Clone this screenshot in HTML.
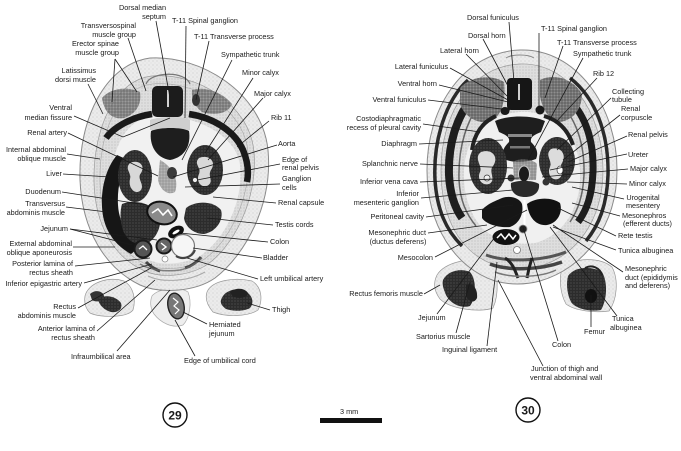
<!DOCTYPE html>
<html><head><meta charset="utf-8">
<style>
html,body{margin:0;padding:0;background:#fff;}
svg{display:block;}
text{font-family:"Liberation Sans",Arial,sans-serif;font-size:7.3px;fill:#1a1a1a;}
.e{text-anchor:end}
.m{text-anchor:middle}
.l line,.l polyline{stroke:#1a1a1a;stroke-width:0.8;fill:none}
</style></head><body>
<svg width="681" height="451" viewBox="0 0 681 451" xmlns="http://www.w3.org/2000/svg">
<defs>
<pattern id="st" width="4" height="4" patternUnits="userSpaceOnUse">
<rect width="4" height="4" fill="#ebebeb"/>
<circle cx="1" cy="1" r="0.5" fill="#bcbcbc"/>
<circle cx="3" cy="3" r="0.4" fill="#c9c9c9"/>
</pattern>
<pattern id="st2" width="3" height="3" patternUnits="userSpaceOnUse">
<rect width="3" height="3" fill="#dedede"/>
<circle cx="1" cy="1" r="0.5" fill="#a8a8a8"/>
</pattern>
<pattern id="dk" width="3" height="3" patternUnits="userSpaceOnUse">
<rect width="3" height="3" fill="#2c2c2c"/>
<circle cx="1" cy="1" r="0.6" fill="#5a5a5a"/>
</pattern>
<pattern id="mg" width="3" height="3" patternUnits="userSpaceOnUse">
<rect width="3" height="3" fill="#7a7a7a"/>
<circle cx="1" cy="1" r="0.6" fill="#444"/>
<circle cx="2.5" cy="2.5" r="0.4" fill="#aaa"/>
</pattern>
</defs>

<!-- ================= SECTION 29 ================= -->
<g>
<!-- thighs -->
<path d="M85,296 C88,283 108,276 124,281 C134,287 136,300 133,310 C127,318 100,318 90,313 C85,308 84,302 85,296 Z" fill="url(#st)" stroke="#999" stroke-width="0.7"/>
<path d="M90,294 C95,289 103,291 104,296 C104,301 97,303 92,300 Z" fill="#333"/>
<path d="M98,299 C105,294 116,296 121,303 C123,309 118,313 111,312 C104,310 99,305 98,299 Z" fill="url(#dk)"/>
<path d="M207,292 C212,280 235,277 252,281 C262,287 263,300 258,310 C248,317 225,317 213,312 C207,305 205,298 207,292 Z" fill="url(#st)" stroke="#999" stroke-width="0.7"/>
<path d="M221,300 C224,291 234,288 242,290 C252,293 255,302 250,308 C243,312 232,311 226,309 C222,306 220,303 221,300 Z" fill="url(#dk)"/>
<path d="M230,292 C236,287 245,288 248,293 C247,298 240,299 233,297 Z" fill="#222"/>
<!-- umbilical cord -->
<path d="M152,296 C158,288 180,286 188,292 C192,302 190,318 183,325 C172,329 160,322 154,314 C150,308 150,301 152,296 Z" fill="#eeeeee" stroke="#aaa" stroke-width="0.7"/>
<ellipse cx="176" cy="306" rx="8" ry="13" transform="rotate(-12 176 306)" fill="#777" stroke="#222" stroke-width="1.4"/>
<path d="M173,298 L178,302 L174,306 L179,310 L175,314" stroke="#fff" stroke-width="1.2" fill="none"/>

<!-- body -->
<path d="M150,58 C200,55 262,92 268,150 C273,205 245,255 215,278 C195,292 160,294 140,285 C105,268 82,230 80,180 C78,120 105,64 150,58 Z" fill="url(#st)" stroke="#8a8a8a" stroke-width="1"/>
<path d="M152,76 C196,72 250,104 254,152 C258,200 233,248 205,266 C185,277 160,278 145,271 C114,258 95,225 94,182 C93,128 115,80 152,76 Z" fill="url(#st2)" stroke="#9a9a9a" stroke-width="0.7"/>
<path d="M152,84 C194,80 244,108 248,152 C252,198 228,244 203,260 C184,270 162,271 148,265 C118,253 101,222 100,182 C99,132 118,88 152,84 Z" fill="none" stroke="#a8a8a8" stroke-width="0.6"/>
<!-- body cavity light -->
<path d="M150,117 C185,112 235,130 240,165 C244,200 225,240 200,256 C182,265 160,266 147,259 C120,246 108,220 110,185 C112,150 125,120 150,117 Z" fill="#f1f1f1"/>
<!-- dorsal muscles -->
<path d="M102,98 C110,88 128,86 140,92 C142,104 136,114 124,118 C112,120 104,112 102,98 Z" fill="url(#mg)" opacity="0.85"/>
<path d="M192,90 C205,86 222,92 232,104 C228,114 214,116 202,112 C194,106 191,98 192,90 Z" fill="url(#mg)" opacity="0.85"/>
<!-- rib arcs -->
<path d="M106,138 C114,127 132,117 152,114" stroke="#1a1a1a" stroke-width="6.5" fill="none"/>
<path d="M189,114 C215,118 235,132 243,150 C248,162 249,172 247,182" stroke="#1a1a1a" stroke-width="6.5" fill="none"/>
<!-- spinal cord -->
<rect x="152" y="86" width="31" height="31" rx="5" fill="#1c1c1c"/>
<line x1="168" y1="90" x2="168" y2="107" stroke="#fff" stroke-width="1.6"/>
<path d="M146,84 C150,72 185,70 190,84" fill="none" stroke="#777" stroke-width="1.2"/>
<ellipse cx="196" cy="100" rx="4" ry="6" fill="#333"/>
<!-- vertebral body -->
<path d="M150,120 C160,116 182,116 190,120 L190,130 L150,130 Z" fill="#cfcfcf"/>
<path d="M151,131 C160,127 182,127 189,131 C191,144 186,157 170,160 C156,158 149,145 151,131 Z" fill="#1e1e1e"/>
<!-- liver crescent -->
<path d="M117,155 C106,168 101,188 102,207 C103,228 113,244 131,254 L141,246 C127,236 119,222 118,205 C117,188 121,172 128,160 Z" fill="#161616"/>
<!-- kidneys -->
<ellipse cx="135" cy="176" rx="17" ry="26" fill="url(#dk)"/>
<path d="M130,163 C138,159 146,165 141,173 C136,179 146,185 140,191 C134,195 128,187 130,179 C132,173 124,169 130,163 Z" fill="#d8d8d8"/>
<ellipse cx="205" cy="170" rx="18" ry="25" fill="url(#dk)"/>
<path d="M199,158 C209,154 217,162 211,170 C207,176 215,182 207,186 C200,188 196,180 199,174 C202,168 193,164 199,158 Z" fill="#d8d8d8"/>
<circle cx="195" cy="180" r="2.5" fill="#eee" stroke="#333" stroke-width="0.8"/>
<!-- aorta -->
<path d="M160,160 C170,165 180,178 175,192 C168,196 160,190 158,180 Z" fill="url(#mg)" opacity="0.6"/>
<ellipse cx="172" cy="173" rx="5" ry="6" fill="#3a3a3a"/>
<!-- testis cords -->
<path d="M122,204 C134,199 150,203 159,213 C163,224 157,239 146,244 C134,246 125,239 122,227 C120,219 120,211 122,204 Z" fill="url(#dk)"/>
<path d="M186,208 C196,200 214,201 221,210 C224,220 216,232 204,234 C193,234 185,226 184,218 Z" fill="url(#dk)"/>
<!-- duodenum -->
<ellipse cx="162" cy="213" rx="15" ry="11" transform="rotate(15 162 213)" fill="#8a8a8a" stroke="#111" stroke-width="2"/>
<path d="M152,213 L158,209 L163,215 L168,210 L172,216" stroke="#fff" stroke-width="1.6" fill="none"/>
<!-- colon -->
<ellipse cx="176" cy="232" rx="8.5" ry="5.5" transform="rotate(-30 176 232)" fill="#111"/>
<ellipse cx="176" cy="232" rx="4" ry="1.5" transform="rotate(-30 176 232)" fill="#fff"/>
<!-- jejunum -->
<circle cx="164" cy="246" r="7.5" fill="#666" stroke="#1a1a1a" stroke-width="2"/>
<path d="M161,243 L166,247 L162,250" stroke="#fff" stroke-width="1.4" fill="none"/>
<circle cx="143" cy="249" r="8.5" fill="#555" stroke="#1a1a1a" stroke-width="2"/>
<path d="M139,249 L143,246 L147,250" stroke="#fff" stroke-width="1.3" fill="none"/>
<!-- bladder -->
<circle cx="183" cy="246" r="11.5" fill="#f6f6f6" stroke="#777" stroke-width="1.2"/>
<path d="M176,256 C182,260 192,258 195,250" stroke="#444" stroke-width="2" fill="none"/>
<circle cx="165" cy="259" r="3" fill="#fff" stroke="#888" stroke-width="0.7"/>
<!-- abdominal wall bottom -->
<path d="M146,262 C150,266 156,270 160,271" stroke="#444" stroke-width="3" fill="none"/>
<path d="M185,268 C192,266 197,262 201,257" stroke="#444" stroke-width="3" fill="none"/>
<path d="M140,264 C150,270 165,272 180,270 C190,268 198,262 202,258" stroke="#666" stroke-width="1.5" fill="none" opacity="0.8"/>
<path d="M148,276 C160,282 185,283 205,272" stroke="#aaa" stroke-width="1" fill="none"/>
</g>

<!-- ================= SECTION 30 ================= -->
<g>
<!-- thighs -->
<path d="M437,275 C445,262 470,257 490,261 C499,270 499,295 493,308 C480,313 450,309 440,299 C434,291 433,283 437,275 Z" fill="url(#st)" stroke="#999" stroke-width="0.7"/>
<path d="M443,280 C448,270 462,268 470,272 C477,280 476,298 470,306 C460,309 450,303 446,295 C443,288 442,284 443,280 Z" fill="url(#dk)"/>
<path d="M466,285 C472,282 478,288 477,298 C474,304 468,302 466,295 Z" fill="#222"/>
<path d="M562,268 C575,257 600,257 612,267 C619,280 617,300 609,311 C595,313 575,311 566,304 C560,293 559,279 562,268 Z" fill="url(#st)" stroke="#999" stroke-width="0.7"/>
<path d="M568,276 C575,266 592,266 602,272 C608,282 607,300 601,310 C590,312 576,309 571,302 C567,294 566,284 568,276 Z" fill="url(#dk)"/>
<ellipse cx="591" cy="296" rx="6" ry="7" fill="#111"/>
<path d="M585,268 C592,264 600,268 602,275" stroke="#222" stroke-width="2" fill="none"/>

<!-- body -->
<path d="M520,50 C575,48 617,105 617,170 C617,225 585,268 540,281 C525,285 510,285 495,281 C455,268 427,225 427,170 C427,105 465,52 520,50 Z" fill="url(#st)" stroke="#8a8a8a" stroke-width="1"/>
<path d="M520,64 C568,62 603,112 603,170 C603,220 576,258 536,267 C521,270 506,269 495,265 C460,253 441,218 441,170 C441,112 472,66 520,64 Z" fill="url(#st2)" stroke="#9a9a9a" stroke-width="0.7"/>
<!-- concentric body wall bands -->
<path d="M468,80 C446,100 433,140 435,180 C437,210 446,230 462,246" stroke="#2a2a2a" stroke-width="3.5" fill="none"/>
<path d="M472,98 C456,118 448,145 449,175 C450,195 455,208 462,218" stroke="#1e1e1e" stroke-width="8" fill="none"/>
<path d="M486,96 C466,118 458,148 459,180 C460,200 466,214 476,226" stroke="#666" stroke-width="1.5" fill="none"/>
<path d="M570,78 C596,98 609,135 608,175 C607,205 599,225 586,241" stroke="#2a2a2a" stroke-width="3.5" fill="none"/>
<path d="M566,96 C585,114 594,140 593,172 C592,195 587,210 578,222" stroke="#1e1e1e" stroke-width="7" fill="none"/>
<path d="M555,97 C575,116 585,142 584,175 C583,196 578,210 570,222" stroke="#666" stroke-width="1.5" fill="none"/>
<!-- cavity light -->
<path d="M520,112 C555,110 578,135 580,170 C582,205 565,235 535,243 C515,246 495,240 482,228 C468,212 463,190 464,170 C466,135 488,114 520,112 Z" fill="#f0f0f0"/>
<!-- dorsal muscles -->
<path d="M460,88 C470,76 492,74 504,82 C506,100 502,116 490,122 C476,124 464,116 460,104 Z" fill="url(#mg)"/>
<path d="M540,80 C555,72 574,80 582,94 C582,108 574,120 560,122 C548,120 542,108 540,96 Z" fill="url(#mg)"/>
<!-- diaphragm bands -->
<path d="M472,150 C474,135 482,122 496,116" stroke="#222" stroke-width="4" fill="none"/>
<path d="M544,116 C558,120 568,130 573,145" stroke="#222" stroke-width="4" fill="none"/>
<!-- spinal cord -->
<path d="M506,58 C512,54 528,54 534,58" stroke="#888" stroke-width="1" fill="none"/>
<rect x="507" y="78" width="25" height="32" rx="4" fill="#161616"/>
<line x1="519" y1="84" x2="519" y2="100" stroke="#fff" stroke-width="1.6"/>
<ellipse cx="505" cy="111" rx="4.5" ry="4" fill="#1a1a1a"/>
<ellipse cx="540" cy="110" rx="4.5" ry="4.5" fill="#1a1a1a"/>
<!-- vertebral body -->
<path d="M495,121 C508,115 532,115 545,121 L541,132 C534,135 530,137 531,142 C536,147 539,152 536,159 C525,163 513,163 504,159 C501,152 504,147 509,142 C510,137 506,135 499,132 Z" fill="#1e1e1e"/>
<rect x="508" y="134" width="24" height="3" fill="#8a8a8a"/>
<rect x="510" y="146" width="20" height="2.5" fill="#777"/>
<!-- kidneys -->
<ellipse cx="488" cy="166" rx="19" ry="28" fill="url(#dk)"/>
<path d="M481,152 C493,148 499,158 493,166 C488,172 497,180 489,184 C481,186 477,178 480,172 C483,166 473,158 481,152 Z" fill="#dcdcdc"/>
<circle cx="487" cy="178" r="3" fill="#f4f4f4" stroke="#333" stroke-width="0.7"/>
<ellipse cx="557" cy="161" rx="18" ry="24" fill="url(#dk)"/>
<path d="M551,149 C561,146 567,155 562,163 C558,169 566,175 558,179 C551,181 547,173 550,167 C553,161 544,155 551,149 Z" fill="#dcdcdc"/>
<ellipse cx="560" cy="170" rx="3" ry="4" fill="#fff" stroke="#333" stroke-width="0.7"/>
<!-- central vessels -->
<path d="M513,162 C518,158 532,158 537,164 L536,180 L514,180 Z" fill="url(#mg)" opacity="0.7"/>
<ellipse cx="524" cy="174" rx="5.5" ry="8" fill="#1a1a1a" stroke="#ccc" stroke-width="1"/>
<path d="M511,183 C518,180 533,180 539,184 C540,192 534,197 525,197 C516,197 510,192 511,183 Z" fill="#2a2a2a"/>
<circle cx="511" cy="178" r="3.5" fill="#333"/>
<circle cx="546" cy="182" r="3.5" fill="#333"/>
<!-- mesonephros / testis lobes -->
<path d="M482,210 C488,203 498,200 502,198 C510,195 520,198 522,204 C524,214 519,224 510,227 C498,228 486,224 482,218 Z" fill="#161616"/>
<path d="M527,204 C536,197 552,197 560,203 C563,212 558,223 547,225 C537,226 529,219 527,204 Z" fill="#111"/>
<line x1="524.5" y1="200" x2="524.5" y2="226" stroke="#fff" stroke-width="2"/>
<circle cx="523" cy="229" r="4" fill="#222" stroke="#999" stroke-width="0.8"/>
<!-- jejunum oval -->
<ellipse cx="506" cy="237" rx="13.5" ry="8" fill="#111"/>
<path d="M497,238 L501,234 L505,239 L509,234 L513,239 L516,235" stroke="#fff" stroke-width="1.5" fill="none"/>
<circle cx="517" cy="250" r="3.5" fill="#fff" stroke="#777" stroke-width="0.8"/>
<!-- lower abdominal wall stripes -->
<path d="M486,255 C505,262 540,262 566,252" stroke="#555" stroke-width="3" fill="none"/>
<path d="M490,264 C508,271 540,270 562,262" stroke="#444" stroke-width="3.5" fill="none"/>
<path d="M505,258 C512,262 515,270 518,278 M532,258 C530,264 528,272 527,278" stroke="#222" stroke-width="3" fill="none"/>
<path d="M495,272 C510,278 540,278 556,270" stroke="#777" stroke-width="1.5" fill="none"/>
</g>

<!-- ================= LEADER LINES ================= -->
<g class="l">
<line x1="156" y1="21" x2="170" y2="98"/>
<line x1="186" y1="26" x2="185" y2="118"/>
<line x1="128" y1="38" x2="146" y2="91"/>
<line x1="209" y1="41" x2="196" y2="100"/>
<line x1="115" y1="59" x2="112" y2="102"/>
<line x1="115" y1="59" x2="137" y2="92"/>
<line x1="232" y1="60" x2="182" y2="160"/>
<line x1="253" y1="78" x2="205" y2="153"/>
<line x1="263" y1="98" x2="208" y2="160"/>
<line x1="269" y1="121" x2="237" y2="147"/>
<line x1="88" y1="84" x2="103" y2="114"/>
<polyline points="74,116 123,137 170,118"/>
<line x1="68" y1="133" x2="158" y2="176"/>
<line x1="67" y1="154" x2="100" y2="159"/>
<line x1="277" y1="145" x2="173" y2="177"/>
<line x1="280" y1="164" x2="197" y2="180"/>
<line x1="280" y1="184" x2="185" y2="187"/>
<line x1="63" y1="174" x2="110" y2="177"/>
<line x1="62" y1="192" x2="147" y2="205"/>
<line x1="276" y1="203" x2="213" y2="197"/>
<line x1="66" y1="207" x2="107" y2="212"/>
<line x1="273" y1="225" x2="207" y2="218"/>
<line x1="70" y1="229" x2="132" y2="245"/>
<line x1="70" y1="229" x2="157" y2="240"/>
<line x1="268" y1="242" x2="180" y2="233"/>
<line x1="73" y1="247" x2="115" y2="247"/>
<line x1="262" y1="258" x2="193" y2="248"/>
<line x1="75" y1="266" x2="150" y2="258"/>
<line x1="258" y1="279" x2="187" y2="258"/>
<line x1="84" y1="283" x2="152" y2="264"/>
<line x1="78" y1="308" x2="151" y2="268"/>
<line x1="270" y1="310" x2="247" y2="303"/>
<line x1="207" y1="324" x2="183" y2="312"/>
<line x1="97" y1="331" x2="155" y2="280"/>
<line x1="117" y1="351" x2="170" y2="290"/>
<line x1="195" y1="356" x2="175" y2="320"/>

<line x1="509" y1="22" x2="514" y2="82"/>
<line x1="539" y1="33" x2="539" y2="106"/>
<line x1="483" y1="39" x2="508" y2="86"/>
<line x1="563" y1="46" x2="545" y2="98"/>
<line x1="466" y1="54" x2="508" y2="97"/>
<line x1="583" y1="58" x2="528" y2="160"/>
<line x1="450" y1="68" x2="508" y2="100"/>
<line x1="597" y1="78" x2="555" y2="123"/>
<line x1="439" y1="85" x2="508" y2="102"/>
<line x1="611" y1="98" x2="557" y2="150"/>
<line x1="428" y1="100" x2="510" y2="110"/>
<line x1="620" y1="115" x2="563" y2="160"/>
<line x1="423" y1="124" x2="480" y2="132"/>
<line x1="627" y1="136" x2="568" y2="162"/>
<line x1="419" y1="144" x2="503" y2="140"/>
<line x1="627" y1="154" x2="550" y2="170"/>
<line x1="420" y1="164" x2="513" y2="168"/>
<line x1="628" y1="169" x2="542" y2="177"/>
<line x1="420" y1="182" x2="520" y2="178"/>
<line x1="627" y1="184" x2="567" y2="182"/>
<line x1="421" y1="198" x2="513" y2="190"/>
<line x1="624" y1="199" x2="572" y2="187"/>
<line x1="426" y1="217" x2="513" y2="205"/>
<line x1="620" y1="216" x2="572" y2="203"/>
<line x1="428" y1="233" x2="487" y2="225"/>
<line x1="616" y1="236" x2="558" y2="208"/>
<line x1="435" y1="257" x2="527" y2="210"/>
<line x1="616" y1="250" x2="553" y2="227"/>
<line x1="623" y1="272" x2="553" y2="225"/>
<line x1="424" y1="294" x2="440" y2="285"/>
<line x1="437" y1="314" x2="498" y2="233"/>
<line x1="617" y1="316" x2="550" y2="227"/>
<line x1="591" y1="327" x2="591" y2="295"/>
<line x1="456" y1="333" x2="470" y2="282"/>
<line x1="558" y1="341" x2="523" y2="227"/>
<line x1="487" y1="346" x2="497" y2="262"/>
<line x1="543" y1="366" x2="498" y2="280"/>
</g>

<!-- ================= LABELS SECTION 29 ================= -->
<text class="e" x="166" y="10">Dorsal median</text>
<text class="e" x="166" y="19">septum</text>
<text x="172" y="23">T-11 Spinal ganglion</text>
<text class="e" x="136" y="28">Transversospinal</text>
<text class="e" x="136" y="37">muscle group</text>
<text x="194" y="39">T-11 Transverse process</text>
<text class="e" x="119" y="46">Erector spinae</text>
<text class="e" x="119" y="55">muscle group</text>
<text x="221" y="57">Sympathetic trunk</text>
<text class="e" x="96" y="73">Latissimus</text>
<text class="e" x="96" y="82">dorsi muscle</text>
<text x="242" y="75">Minor calyx</text>
<text x="254" y="96">Major calyx</text>
<text class="e" x="72" y="110">Ventral</text>
<text class="e" x="72" y="120">median fissure</text>
<text x="271" y="120">Rib 11</text>
<text class="e" x="67" y="135">Renal artery</text>
<text x="278" y="146">Aorta</text>
<text class="e" x="66" y="152">Internal abdominal</text>
<text class="e" x="66" y="161">oblique muscle</text>
<text x="282" y="162">Edge of</text>
<text x="282" y="170">renal pelvis</text>
<text class="e" x="62" y="176">Liver</text>
<text x="282" y="181">Ganglion</text>
<text x="282" y="190">cells</text>
<text class="e" x="61" y="194">Duodenum</text>
<text x="278" y="205">Renal capsule</text>
<text class="e" x="65" y="206">Transversus</text>
<text class="e" x="65" y="215">abdominis muscle</text>
<text x="275" y="227">Testis cords</text>
<text class="e" x="68" y="231">Jejunum</text>
<text x="270" y="244">Colon</text>
<text class="e" x="72" y="246">External abdominal</text>
<text class="e" x="72" y="255">oblique aponeurosis</text>
<text x="263" y="260">Bladder</text>
<text class="e" x="73" y="266">Posterior lamina of</text>
<text class="e" x="73" y="275">rectus sheath</text>
<text x="260" y="281">Left umbilical artery</text>
<text class="e" x="82" y="286">Inferior epigastric artery</text>
<text x="272" y="312">Thigh</text>
<text class="e" x="76" y="309">Rectus</text>
<text class="e" x="76" y="318">abdominis muscle</text>
<text x="209" y="327">Herniated</text>
<text x="209" y="336">jejunum</text>
<text class="e" x="95" y="331">Anterior lamina of</text>
<text class="e" x="95" y="340">rectus sheath</text>
<text x="71" y="359">Infraumbilical area</text>
<text x="184" y="363">Edge of umbilical cord</text>

<!-- ================= LABELS SECTION 30 ================= -->
<text x="467" y="20">Dorsal funiculus</text>
<text x="541" y="31">T-11 Spinal ganglion</text>
<text x="468" y="38">Dorsal horn</text>
<text x="557" y="45">T-11 Transverse process</text>
<text x="440" y="53">Lateral horn</text>
<text x="573" y="56">Sympathetic trunk</text>
<text class="e" x="448" y="69">Lateral funiculus</text>
<text x="593" y="76">Rib 12</text>
<text class="e" x="437" y="86">Ventral horn</text>
<text x="612" y="94">Collecting</text>
<text x="612" y="102">tubule</text>
<text class="e" x="426" y="102">Ventral funiculus</text>
<text x="621" y="111">Renal</text>
<text x="621" y="120">corpuscle</text>
<text class="e" x="421" y="121">Costodiaphragmatic</text>
<text class="e" x="421" y="130">recess of pleural cavity</text>
<text x="628" y="137">Renal pelvis</text>
<text class="e" x="417" y="146">Diaphragm</text>
<text x="628" y="157">Ureter</text>
<text class="e" x="418" y="166">Splanchnic nerve</text>
<text x="630" y="171">Major calyx</text>
<text class="e" x="418" y="184">Inferior vena cava</text>
<text x="629" y="186">Minor calyx</text>
<text class="e" x="419" y="196">Inferior</text>
<text class="e" x="419" y="205">mesenteric ganglion</text>
<text class="m" x="643" y="200">Urogenital</text>
<text class="m" x="643" y="208">mesentery</text>
<text class="e" x="424" y="219">Peritoneal cavity</text>
<text x="622" y="218">Mesonephros</text>
<text x="623" y="226">(efferent ducts)</text>
<text class="e" x="426" y="235">Mesonephric duct</text>
<text class="m" x="398" y="244">(ductus deferens)</text>
<text x="618" y="238">Rete testis</text>
<text x="618" y="253">Tunica albuginea</text>
<text class="e" x="433" y="260">Mesocolon</text>
<text x="625" y="271">Mesonephric</text>
<text x="625" y="280">duct (epididymis</text>
<text x="625" y="288">and deferens)</text>
<text class="e" x="423" y="296">Rectus femoris muscle</text>
<text x="418" y="320">Jejunum</text>
<text x="612" y="321">Tunica</text>
<text x="610" y="330">albuginea</text>
<text x="584" y="334">Femur</text>
<text x="416" y="339">Sartorius muscle</text>
<text x="552" y="347">Colon</text>
<text x="442" y="352">Inguinal ligament</text>
<text x="531" y="371">Junction of thigh and</text>
<text x="530" y="380">ventral abdominal wall</text>

<!-- scale bar & section numbers -->
<text x="340" y="414">3 mm</text>
<rect x="320" y="418" width="62" height="5" fill="#111"/>
<circle cx="175" cy="415" r="12" fill="#fff" stroke="#111" stroke-width="1.4"/>
<text class="m" x="175" y="419.5" style="font-size:12px;font-weight:bold;">29</text>
<circle cx="528" cy="410" r="12" fill="#fff" stroke="#111" stroke-width="1.4"/>
<text class="m" x="528" y="414.5" style="font-size:12px;font-weight:bold;">30</text>
</svg>
</body></html>
